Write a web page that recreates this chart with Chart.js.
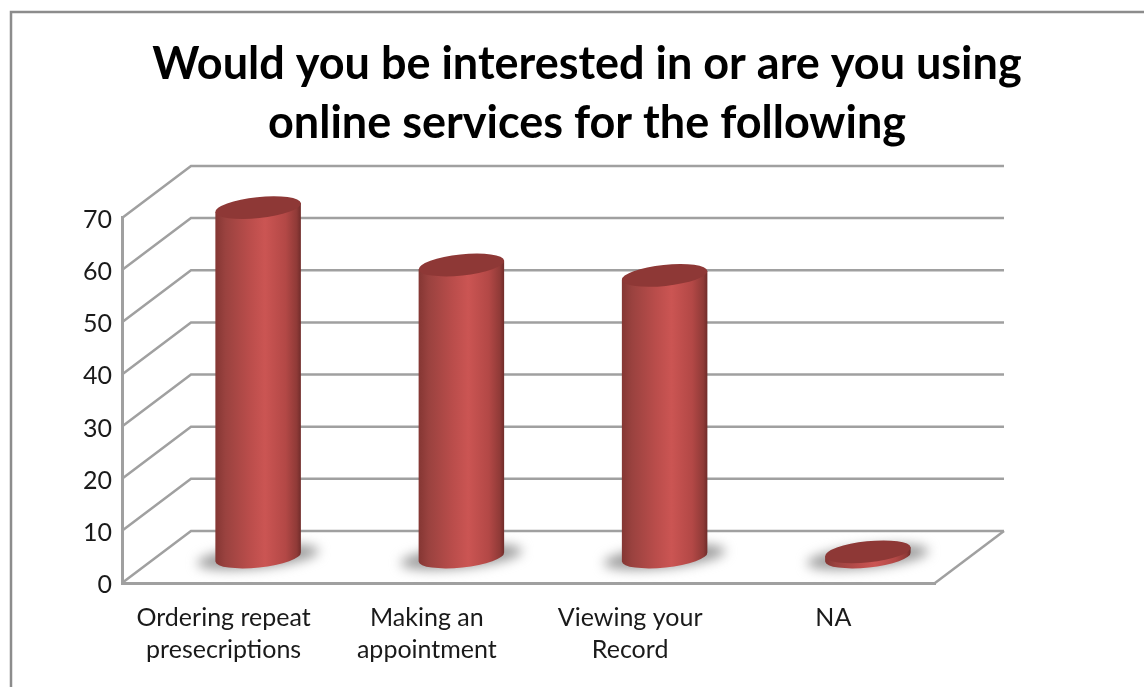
<!DOCTYPE html>
<html>
<head>
    <title>Online services</title>
    <meta charset="utf-8" />
    <style>
        html, body { margin: 0; padding: 0; background: #fff; overflow: hidden; width: 1144px; height: 687px; }
        canvas { display: block; }
    </style>
</head>
<body>

<canvas id="chart" width="1174" height="687"></canvas>

<script src="https://cdn.jsdelivr.net/npm/chart.js@4/dist/chart.umd.min.js"></script>

<script>
    var titleLines = ['Would you be interested in or are you using', 'online services for the following'];
    var categories = [['Ordering repeat', 'presecriptions'], ['Making an', 'appointment'], ['Viewing your', 'Record'], 'NA'];
    var responses = [67, 56, 54, 1];

    var gridColor = '#a0a0a0';
    var depthX = 69;    // how far the back wall sits from the front plane
    var depthY = -52;
    var tilt = -0.105;  // ellipses lean up to the right
    var capRatio = 0.245;

    function ellipse(ctx, cx, cy, rx, ry) {
        ctx.beginPath();
        ctx.ellipse(cx, cy, rx, ry, tilt, 0, Math.PI * 2);
    }

    // frame, back wall and floor of the 3d box
    var boxPlugin = {
        id: 'box',
        beforeDatasetsDraw: function (chart) {
            var ctx = chart.ctx;
            var area = chart.chartArea;
            var yScale = chart.scales.y;

            ctx.save();
            ctx.strokeStyle = '#8c8c8c';
            ctx.lineWidth = 2.5;
            ctx.beginPath();
            ctx.moveTo(11, 687);
            ctx.lineTo(11, 12);
            ctx.lineTo(1174, 12);
            ctx.stroke();

            ctx.strokeStyle = gridColor;
            ctx.lineWidth = 2.5;
            yScale.ticks.forEach(function (tick) {
                var y = yScale.getPixelForValue(tick.value);
                ctx.beginPath();
                ctx.moveTo(area.left, y);
                ctx.lineTo(area.left + depthX, y + depthY);
                ctx.lineTo(area.right + depthX, y + depthY);
                ctx.stroke();
            });

            // right edge of the floor
            ctx.beginPath();
            ctx.moveTo(area.right, area.bottom);
            ctx.lineTo(area.right + depthX, area.bottom + depthY);
            ctx.stroke();
            ctx.restore();
        }
    };

    // cylinders stand in the middle of the box depth, on the positions of the bar elements
    var cylinderPlugin = {
        id: 'cylinder',
        afterDatasetsDraw: function (chart) {
            var ctx = chart.ctx;
            chart.getDatasetMeta(0).data.forEach(function (bar) {
                var cx = bar.x + depthX / 2;
                var rx = bar.width / 2;
                var ry = rx * capRatio;
                var baseY = bar.base + depthY / 2;
                var topY = bar.y + depthY / 2;
                var lean = rx * Math.sin(tilt);

                // soft shadow on the floor
                ctx.save();
                ctx.filter = 'blur(6px)';
                ctx.fillStyle = '#9c9c9c';
                ellipse(ctx, cx, baseY, rx * 1.42, ry * 1.05);
                ctx.fill();
                ctx.restore();

                // side
                var side = ctx.createLinearGradient(cx - rx, 0, cx + rx, 0);
                side.addColorStop(0, '#843633');
                side.addColorStop(0.12, '#9a423f');
                side.addColorStop(0.4, '#ba4d4b');
                side.addColorStop(0.58, '#cb5553');
                side.addColorStop(0.82, '#b34846');
                side.addColorStop(0.95, '#8f3a37');
                side.addColorStop(1, '#6e2b29');

                ctx.save();
                ctx.fillStyle = side;
                ctx.beginPath();
                ctx.ellipse(cx, baseY, rx, ry, tilt, Math.PI, 0, true);
                ctx.lineTo(cx + rx * Math.cos(tilt), topY + lean);
                ctx.lineTo(cx - rx * Math.cos(tilt), topY - lean);
                ctx.closePath();
                ctx.fill();

                // top cap
                ctx.fillStyle = '#8e3836';
                ellipse(ctx, cx, topY, rx, ry);
                ctx.fill();
                ctx.restore();
            });
        }
    };

    new Chart(document.getElementById('chart'), {
        type: 'bar',
        data: {
            labels: categories,
            datasets: [{
                data: responses,
                backgroundColor: 'rgba(0,0,0,0)',
                barPercentage: 0.423,
                categoryPercentage: 1
            }]
        },
        options: {
            responsive: false,
            animation: false,
            plugins: {
                legend: { display: false },
                tooltip: { enabled: false },
                title: {
                    display: true,
                    text: titleLines,
                    color: '#000',
                    font: { family: 'Lato', size: 45, weight: 'bold', lineHeight: 1.333 },
                    padding: { top: 34, bottom: 64 }
                }
            },
            scales: {
                x: {
                    grid: { display: false },
                    border: { display: true, color: gridColor, width: 3 },
                    afterFit: function (scale) { scale.height = 104; },
                    ticks: {
                        color: '#1a1a1a',
                        autoSkip: false,
                        maxRotation: 0,
                        padding: 11,
                        font: { family: 'Lato', size: 25, lineHeight: 1.28 }
                    }
                },
                y: {
                    min: 0,
                    max: 70,
                    grid: { display: false },
                    border: { display: true, color: gridColor, width: 3 },
                    afterFit: function (scale) { scale.width = 122; },
                    ticks: {
                        stepSize: 10,
                        color: '#1a1a1a',
                        padding: 2,
                        labelOffset: 2,
                        font: { family: 'Lato', size: 25 }
                    }
                },
                // empty axis, only reserves the room right of the plot
                spacer: {
                    type: 'linear',
                    position: 'right',
                    grid: { display: false },
                    border: { display: false },
                    ticks: { display: false },
                    afterFit: function (scale) { scale.width = 239; }
                }
            }
        },
        plugins: [boxPlugin, cylinderPlugin]
    });
</script>

</body>
</html>
